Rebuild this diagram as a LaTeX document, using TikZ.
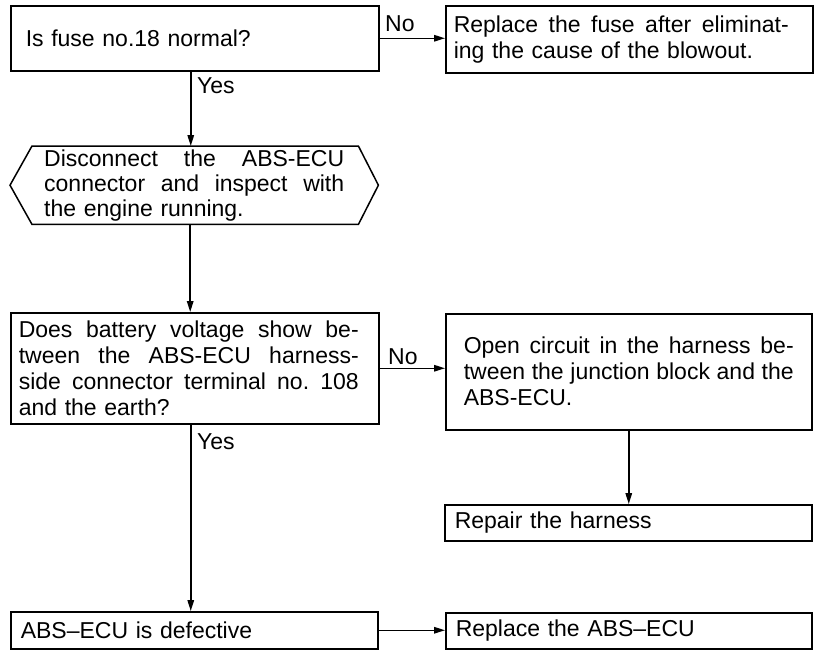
\documentclass[tikz,border=0pt]{standalone}
\usepackage{fontspec}
\setmainfont{Liberation Sans}
\usetikzlibrary{arrows.meta}
\newcommand\jline[2]{\makebox[#1][s]{\frenchspacing\spaceskip=.28em plus 1fil\relax #2}}
\tikzset{
  box/.style={draw, line width=1.5pt, anchor=north west, inner ysep=0pt,
    font=\fontsize{23}{26}\selectfont, align=left},
  hexbox/.style={anchor=north west, inner sep=0pt,
    font=\fontsize{23}{25}\selectfont, align=left},
  hexline/.style={line width=1.5pt, line join=miter},
  arr/.style={line width=1.5pt, -{Triangle[length=11pt,width=6.5pt]}},
  lbl/.style={font=\fontsize{23}{26}\selectfont, inner sep=0pt, anchor=base west},
}
\begin{document}
\begin{tikzpicture}[x=1pt,y=-1pt]
\useasboundingbox (0,0) rectangle (818,649);
% boxes
\node[box, text width=338pt, inner xsep=15pt, minimum height=65pt] (b1) at (10,5)
  {Is fuse no.18 normal?};
\node[box, text width=351pt, inner xsep=8pt, minimum height=67pt] (b2) at (445,5)
  {\jline{335pt}{Replace the fuse after eliminat-}\\ing the cause of the blowout.};
\node[hexbox, text width=300pt, minimum width=368pt, minimum height=78pt] (hex) at (10,146)
  {\jline{300pt}{Disconnect the ABS-ECU}\\
   \jline{300pt}{connector and inspect with}\\
   the engine running.};
\draw[hexline] (hex.west) -- ([xshift=22pt]hex.north west) -- ([xshift=-20pt]hex.north east)
  -- (hex.east) -- ([xshift=-20pt]hex.south east) -- ([xshift=22pt]hex.south west) -- cycle;
\node[box, text width=352pt, inner xsep=8pt, minimum height=111pt] (b3) at (10,312)
  {\jline{340pt}{Does battery voltage show be-}\\
   \jline{340pt}{tween the ABS-ECU harness-}\\
   \jline{340pt}{side connector terminal no. 108}\\
   and the earth?};
\node[box, text width=330pt, inner xsep=18pt, minimum height=116pt] (b4) at (445,313)
  {\jline{330pt}{Open circuit in the harness be-}\\
   \jline{330pt}{tween the junction block and the}\\
   ABS-ECU.};
\node[box, text width=347pt, inner xsep=10pt, minimum height=36pt] (rep) at (444,504)
  {Repair the harness};
\node[box, text width=347pt, inner xsep=10pt, minimum height=37pt] (def) at (10,611)
  {ABS–ECU is defective};
\node[box, text width=346pt, inner xsep=10pt, minimum height=36pt] (rabs) at (445,612)
  {Replace the ABS–ECU};
% connectors
\draw[arr] (b1.east) -- (b1.east -| b2.west);
\draw[arr] ([xshift=-4pt]b1.south) -- ([xshift=-4pt]b1.south |- hex.north);
\draw[arr] ([xshift=-4pt]hex.south) -- ([xshift=-4pt]hex.south |- b3.north);
\draw[arr] (b3.east) -- (b3.east -| b4.west);
\draw[arr] (b4.south) -- (b4.south |- rep.north);
\draw[arr] ([xshift=-4pt]b3.south) -- ([xshift=-4pt]b3.south |- def.north);
\draw[arr] (def.east) -- (def.east -| rabs.west);
% labels
\node[lbl] (no1) at (385,31) {No};
\node[lbl] (yes1) at (197,93) {Yes};
\node[lbl] (no2) at (388,364) {No};
\node[lbl] (yes2) at (197,449) {Yes};
\end{tikzpicture}
\end{document}
